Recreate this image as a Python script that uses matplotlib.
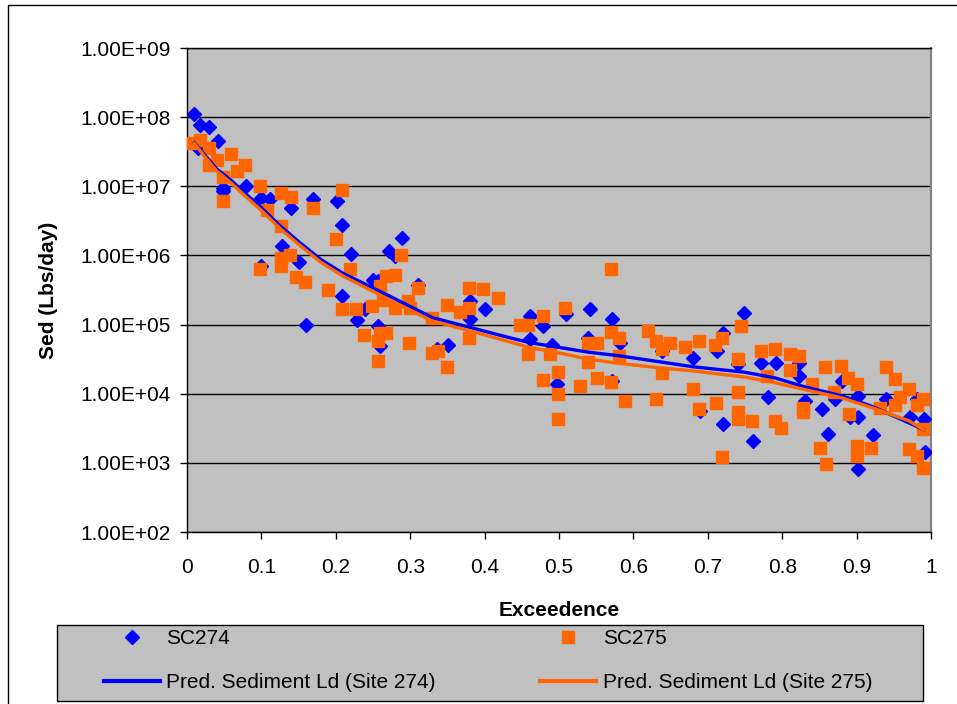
import numpy as np
import matplotlib
matplotlib.use("Agg")
import matplotlib.pyplot as plt
from matplotlib.ticker import FuncFormatter, FixedLocator
from matplotlib.patches import Rectangle
from matplotlib.lines import Line2D

plt.rcParams["font.family"] = ["Liberation Sans", "DejaVu Sans"]

# ==============================
# Data (y given as log10 of Lbs/day)
# ==============================
sc274_x = [0.010, 0.015, 0.018, 0.030, 0.041, 0.049, 0.049, 0.079, 0.100, 0.112,
           0.100, 0.128, 0.140, 0.150, 0.170, 0.201, 0.209, 0.220, 0.160, 0.209,
           0.228, 0.239, 0.250, 0.289, 0.271, 0.280, 0.257, 0.311, 0.257, 0.259,
           0.351, 0.336, 0.380, 0.380, 0.401, 0.461, 0.479, 0.461, 0.490, 0.497,
           0.510, 0.541, 0.571, 0.539, 0.582, 0.571, 0.638, 0.680, 0.712, 0.721,
           0.748, 0.741, 0.690, 0.720, 0.772, 0.792, 0.823, 0.823, 0.781, 0.830,
           0.853, 0.761, 0.861, 0.880, 0.871, 0.902, 0.891, 0.902, 0.922, 0.902,
           0.940, 0.972, 0.990, 0.992, 0.981]
sc274_log = [8.04, 7.55, 7.88, 7.86, 7.66, 6.98, 6.93, 7.00, 6.83, 6.81,
             5.84, 6.13, 6.69, 5.90, 6.81, 6.79, 6.44, 6.02, 4.99, 5.41,
             5.06, 5.22, 5.65, 6.25, 6.07, 5.99, 5.63, 5.57, 4.98, 4.69,
             4.71, 4.64, 5.34, 5.08, 5.22, 5.12, 4.98, 4.79, 4.70, 4.14,
             5.15, 5.22, 5.08, 4.81, 4.74, 4.19, 4.62, 4.52, 4.62, 4.88,
             5.17, 4.43, 3.75, 3.56, 4.45, 4.45, 4.45, 4.26, 3.95, 3.90,
             3.78, 3.32, 3.42, 4.19, 3.92, 3.97, 3.66, 3.66, 3.40, 2.91,
             3.92, 3.66, 3.63, 3.15, 3.92]

sc275_x = [0.006, 0.018, 0.029, 0.029, 0.040, 0.048, 0.059, 0.067, 0.078, 0.048,
           0.098, 0.108, 0.127, 0.140, 0.127, 0.169, 0.208, 0.200, 0.219, 0.098,
           0.127, 0.127, 0.138, 0.147, 0.159, 0.189, 0.208, 0.227, 0.238, 0.248,
           0.288, 0.280, 0.268, 0.259, 0.264, 0.280, 0.297, 0.300, 0.311, 0.259,
           0.257, 0.268, 0.257, 0.299, 0.329, 0.329, 0.338, 0.349, 0.349, 0.379,
           0.398, 0.418, 0.367, 0.379, 0.379, 0.448, 0.459, 0.478, 0.459, 0.488,
           0.478, 0.499, 0.499, 0.499, 0.570, 0.508, 0.570, 0.580, 0.539, 0.551,
           0.539, 0.580, 0.619, 0.631, 0.649, 0.638, 0.669, 0.688, 0.710, 0.719,
           0.740, 0.745, 0.638, 0.528, 0.551, 0.570, 0.589, 0.630, 0.680, 0.688,
           0.711, 0.740, 0.740, 0.740, 0.719, 0.771, 0.790, 0.810, 0.822, 0.810,
           0.779, 0.840, 0.858, 0.879, 0.889, 0.900, 0.870, 0.828, 0.828, 0.760,
           0.790, 0.798, 0.890, 0.851, 0.859, 0.900, 0.900, 0.920, 0.931, 0.940,
           0.951, 0.959, 0.970, 0.951, 0.981, 0.989, 0.989, 0.970, 0.981, 0.989]
sc275_log = [7.63, 7.67, 7.55, 7.31, 7.38, 7.14, 7.46, 7.22, 7.31, 6.78,
             7.01, 6.66, 6.90, 6.85, 6.42, 6.69, 6.95, 6.24, 5.80, 5.81,
             5.97, 5.84, 6.00, 5.69, 5.62, 5.50, 5.23, 5.23, 4.85, 5.27,
             6.01, 5.71, 5.70, 5.56, 5.36, 5.24, 5.34, 5.24, 5.53, 4.88,
             4.76, 4.88, 4.47, 4.74, 5.09, 4.59, 4.62, 4.38, 5.29, 5.53,
             5.51, 5.39, 5.18, 5.24, 4.81, 5.00, 5.00, 5.12, 4.57, 4.57,
             4.20, 4.31, 3.99, 3.63, 5.80, 5.24, 4.89, 4.80, 4.74, 4.74,
             4.46, 4.55, 4.90, 4.76, 4.74, 4.64, 4.68, 4.76, 4.70, 4.80,
             4.50, 4.98, 4.30, 4.11, 4.23, 4.17, 3.90, 3.93, 4.07, 3.78,
             3.87, 4.02, 3.73, 3.63, 3.08, 4.62, 4.64, 4.57, 4.55, 4.35,
             4.26, 4.14, 4.38, 4.40, 4.23, 4.14, 4.02, 3.80, 3.73, 3.61,
             3.61, 3.51, 3.70, 3.22, 2.98, 3.25, 3.10, 3.22, 3.79, 4.38,
             4.21, 3.95, 4.07, 3.83, 3.83, 3.92, 3.49, 3.20, 3.10, 2.93]

pred_x = [0.01, 0.02, 0.04, 0.06, 0.08, 0.10, 0.125, 0.15, 0.18, 0.21,
          0.25, 0.28, 0.33, 0.38, 0.43, 0.46, 0.50, 0.54, 0.58, 0.63,
          0.68, 0.75, 0.79, 0.83, 0.88, 0.92, 0.97, 0.99]
pred274_log = [7.63, 7.50, 7.25, 7.08, 6.88, 6.69, 6.43, 6.20, 5.94, 5.74,
               5.53, 5.37, 5.10, 4.96, 4.82, 4.74, 4.67, 4.60, 4.55, 4.47,
               4.39, 4.31, 4.23, 4.10, 3.97, 3.82, 3.58, 3.48]
pred275_log = [7.62, 7.48, 7.22, 7.04, 6.84, 6.65, 6.39, 6.16, 5.90, 5.70,
               5.48, 5.31, 5.05, 4.91, 4.76, 4.67, 4.59, 4.50, 4.44, 4.38,
               4.33, 4.24, 4.16, 4.06, 3.94, 3.80, 3.61, 3.48]

labels = ["SC274", "SC275", "Pred. Sediment Ld (Site 274)", "Pred. Sediment Ld (Site 275)"]
x_ticks = [0, 0.1, 0.2, 0.3, 0.4, 0.5, 0.6, 0.7, 0.8, 0.9, 1]
y_ticks = [1e2, 1e3, 1e4, 1e5, 1e6, 1e7, 1e8, 1e9]

blue = "#0000FF"
orange = "#FF6600"
gray = "#C0C0C0"
fs = 15

# ==============================
# Figure
# ==============================
W, H = 957, 704
fig = plt.figure(figsize=(W / 100, H / 100), dpi=100)
fig.patch.set_facecolor("white")

# outer chart border (right/bottom run off the picture)
fig.patches.append(Rectangle((8 / W, -0.1), 1.2, 1.1 - 5 / H, transform=fig.transFigure,
                             facecolor="none", edgecolor="black", linewidth=1.0, zorder=0))

ax = fig.add_axes([187 / W, 1 - 532 / H, (931 - 187) / W, (532 - 48) / H])
ax.set_facecolor(gray)
ax.set_yscale("log")
ax.set_xlim(0, 1)
ax.set_ylim(1e2, 1e9)

ax.plot(sc274_x, 10 ** np.array(sc274_log), linestyle="none", marker="D", ms=6.8,
        color=blue, mec=blue, zorder=3, label=labels[0])
ax.plot(sc275_x, 10 ** np.array(sc275_log), linestyle="none", marker="s", ms=8,
        color=orange, mec=orange, zorder=4, label=labels[1])
ax.plot(pred_x, 10 ** np.array(pred274_log), color=blue, lw=2.4, zorder=5, label=labels[2])
ax.plot(pred_x, 10 ** np.array(pred275_log), color=orange, lw=2.4, zorder=6, label=labels[3])

ax.yaxis.set_major_locator(FixedLocator(y_ticks))
ax.yaxis.set_minor_locator(FixedLocator([]))
ax.yaxis.set_major_formatter(FuncFormatter(lambda v, p: f"{v:.2E}"))
ax.set_xticks(x_ticks)
ax.xaxis.set_major_formatter(FuncFormatter(lambda v, p: f"{v:g}"))
ax.grid(axis="y", color="black", linewidth=1.0)
ax.set_axisbelow(True)

ax.tick_params(axis="both", direction="out", length=5, width=1, color="black", labelsize=fs)
ax.tick_params(axis="y", pad=7)
ax.tick_params(axis="x", pad=14)
for side in ["left", "bottom", "top"]:
    ax.spines[side].set_color("black")
    ax.spines[side].set_linewidth(1.0)
ax.spines["right"].set_color("#808080")
ax.spines["right"].set_linewidth(1.5)

ax.set_ylabel("Sed (Lbs/day)", fontsize=fs, fontweight="bold", labelpad=16)
ax.set_xlabel("Exceedence", fontsize=fs, fontweight="bold", labelpad=17)

# ==============================
# Legend box below the plot
# ==============================
fig.patches.append(Rectangle((57 / W, 1 - 701 / H), 866 / W, 76 / H, transform=fig.transFigure,
                             facecolor=gray, edgecolor="black", linewidth=1.0, zorder=1))
handles = [
    Line2D([], [], linestyle="none", marker="D", ms=6.8, color=blue),
    Line2D([], [], linestyle="none", marker="s", ms=8, color=orange),
    Line2D([], [], color=blue, lw=3),
    Line2D([], [], color=orange, lw=3),
]
leg = fig.legend([handles[0], handles[2], handles[1], handles[3]],
                 [labels[0], labels[2], labels[1], labels[3]],
                 ncol=2, loc="upper left", bbox_to_anchor=(104 / W, 1 - 629 / H),
                 frameon=False, fontsize=fs, handlelength=2.7, handletextpad=0.3,
                 columnspacing=5.0, labelspacing=1.19, borderpad=0, borderaxespad=0)
leg.set_zorder(2)

plt.savefig("out.png", dpi=100)
